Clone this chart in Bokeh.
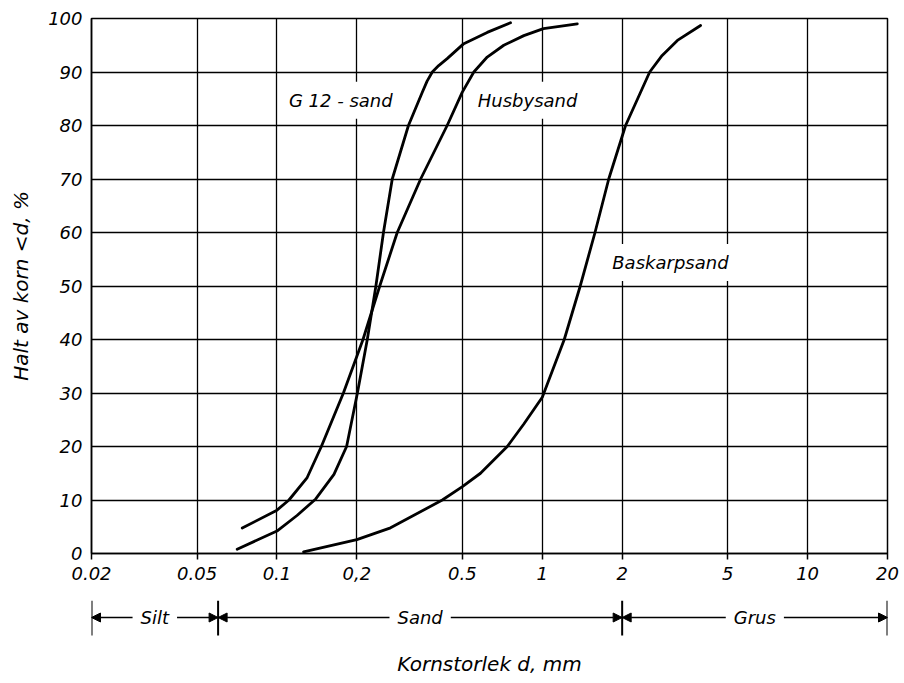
from bokeh.plotting import figure
from bokeh.models import FixedTicker, Label, Arrow, NormalHead, Range1d
from bokeh.layouts import column
from bokeh.embed import file_html
from bokeh.resources import INLINE

# ---------------- data ----------------
x_ticks = [0.02, 0.05, 0.1, 0.2, 0.5, 1, 2, 5, 10, 20]
x_tick_labels = ["0.02", "0.05", "0.1", "0,2", "0.5", "1", "2", "5", "10", "20"]
y_ticks = [0, 10, 20, 30, 40, 50, 60, 70, 80, 90, 100]

g12_d = [0.0708, 0.1, 0.119, 0.140, 0.164, 0.183, 0.201, 0.219, 0.236, 0.252, 0.272,
         0.313, 0.353, 0.368, 0.385, 0.407, 0.438, 0.506, 0.62, 0.759]
g12_p = [0.8, 4.2, 7.1, 10.2, 14.8, 20, 30, 40, 50, 60, 70,
         80, 86.2, 88.3, 90, 91.2, 92.5, 95.3, 97.4, 99.2]

husby_d = [0.074, 0.1, 0.111, 0.130, 0.147, 0.178, 0.211, 0.244, 0.284, 0.348,
           0.438, 0.499, 0.552, 0.62, 0.716, 0.852, 1.01, 1.355]
husby_p = [4.75, 8.1, 10, 14.2, 20, 30, 40, 50, 60, 70,
           80, 86.2, 90, 92.8, 95, 96.8, 98.1, 99]

bask_d = [0.126, 0.2, 0.268, 0.42, 0.5, 0.585, 0.738, 0.852, 1.0, 1.21, 1.39,
          1.58, 1.78, 2.06, 2.54, 2.83, 3.23, 3.95]
bask_p = [0.3, 2.6, 4.8, 10, 12.5, 15, 20, 24.2, 29.2, 40, 50,
          60, 70, 80, 90, 93.1, 95.9, 98.7]

curve_names = ["G 12 - sand", "Husbysand", "Baskarpsand"]
name_pos_d = [0.174, 0.88, 3.04]
name_pos_p = [84.7, 84.7, 54.4]

fraction_bounds = [0.02, 0.06, 2, 20]
fraction_names = ["Silt", "Sand", "Grus"]

FONT = "DejaVu Sans"

# ---------------- main chart ----------------
p = figure(width=904, height=600, x_axis_type="log",
           x_range=Range1d(0.02, 20), y_range=Range1d(0, 100),
           output_backend="svg", toolbar_location=None,
           min_border_left=91, min_border_right=17,
           min_border_top=18, min_border_bottom=47)

p.background_fill_color = "white"
p.border_fill_color = "white"
p.outline_line_color = "black"
p.outline_line_width = 1.5

p.xaxis.ticker = FixedTicker(ticks=x_ticks)
p.xaxis.major_label_overrides = {t: l for t, l in zip(x_ticks, x_tick_labels)}
p.yaxis.ticker = FixedTicker(ticks=y_ticks)
p.xaxis.minor_tick_line_color = None
p.yaxis.minor_tick_line_color = None
p.xaxis.major_tick_out = 6
p.xaxis.major_tick_in = 0
p.yaxis.major_tick_out = 0
p.yaxis.major_tick_in = 0
p.axis.axis_line_color = "black"
p.axis.axis_line_width = 1.5
p.axis.major_tick_line_color = "black"
p.axis.major_tick_line_width = 1.5
p.axis.major_label_text_font = FONT
p.axis.major_label_text_font_style = "italic"
p.axis.major_label_text_font_size = "18px"
p.axis.major_label_text_color = "black"
p.xaxis.major_label_standoff = 7
p.yaxis.major_label_standoff = 9

p.yaxis.axis_label = "Halt av korn <d, %"
p.yaxis.axis_label_text_font = FONT
p.yaxis.axis_label_text_font_style = "italic"
p.yaxis.axis_label_text_font_size = "20px"
p.yaxis.axis_label_text_color = "black"
p.yaxis.axis_label_standoff = 12

p.grid.grid_line_color = "black"
p.grid.grid_line_width = 1.3
p.grid.grid_line_alpha = 1.0

for d, pct in [(g12_d, g12_p), (husby_d, husby_p), (bask_d, bask_p)]:
    p.line(d, pct, line_color="black", line_width=2.8, line_join="round", line_cap="round")

for name, xd, yp in zip(curve_names, name_pos_d, name_pos_p):
    p.add_layout(Label(x=xd, y=yp, text=name, text_align="center", text_baseline="middle",
                       text_font=FONT, text_font_style="italic", text_font_size="18px",
                       text_color="black", background_fill_color="white",
                       padding=dict(left=3, right=3, top=8, bottom=8)))

# ---------------- fraction row + x label ----------------
p2 = figure(width=904, height=83, x_axis_type="log",
            x_range=p.x_range, y_range=Range1d(0, 1),
            output_backend="svg", toolbar_location=None,
            min_border_left=91, min_border_right=17,
            min_border_top=0, min_border_bottom=33)
p2.outline_line_color = None
p2.grid.visible = False
p2.yaxis.visible = False
p2.background_fill_color = "white"
p2.border_fill_color = "white"
p2.xaxis.ticker = FixedTicker(ticks=[])
p2.xaxis.axis_line_color = None
p2.xaxis.major_tick_line_color = None
p2.xaxis.minor_tick_line_color = None
p2.xaxis.major_label_text_font_size = "0px"
p2.xaxis.axis_label = "Kornstorlek d, mm"
p2.xaxis.axis_label_text_font = FONT
p2.xaxis.axis_label_text_font_style = "italic"
p2.xaxis.axis_label_text_font_size = "20px"
p2.xaxis.axis_label_text_color = "black"
p2.xaxis.axis_label_standoff = 1

row_y = 0.66
p2.segment(x0=fraction_bounds, y0=[0.3] * len(fraction_bounds),
           x1=fraction_bounds, y1=[1.0] * len(fraction_bounds),
           line_color="black", line_width=2)

for i, name in enumerate(fraction_names):
    lo, hi = fraction_bounds[i], fraction_bounds[i + 1]
    mid = (lo * hi) ** 0.5
    for end in (lo, hi):
        p2.add_layout(Arrow(end=NormalHead(size=9, fill_color="black", line_color="black", line_width=1),
                            x_start=mid, y_start=row_y, x_end=end, y_end=row_y,
                            line_color="black", line_width=1.5))
for i, name in enumerate(fraction_names):
    lo, hi = fraction_bounds[i], fraction_bounds[i + 1]
    mid = (lo * hi) ** 0.5
    p2.add_layout(Label(x=mid, y=row_y, text=name, text_align="center", text_baseline="middle",
                        text_font=FONT, text_font_style="italic", text_font_size="18px",
                        text_color="black", background_fill_color="white",
                        padding=dict(left=8, right=8, top=2, bottom=2)))

layout = column(p, p2, spacing=0)
open("out.html", "w").write(file_html(layout, INLINE))
